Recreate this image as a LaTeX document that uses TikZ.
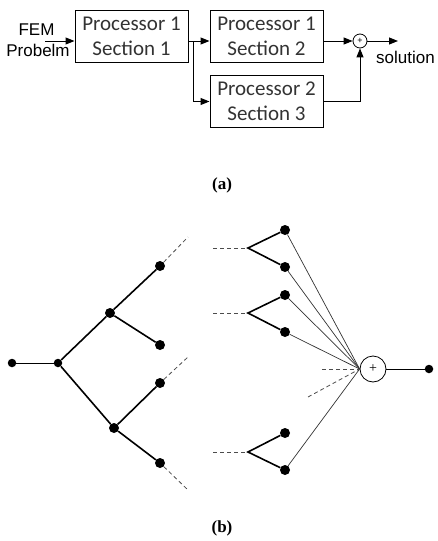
\documentclass[tikz,border=0pt]{standalone}
\usepackage{fontspec}
\setmainfont{Liberation Serif}
\newfontfamily\calfont{Carlito}
\newfontfamily\arifont{Liberation Sans}
\usetikzlibrary{arrows.meta}
\begin{document}
\begin{tikzpicture}[x=1pt,y=-1pt,
  procbox/.style={draw, line width=1pt, minimum width=113pt, minimum height=52pt, inner sep=0pt, align=center, font=\calfont\fontsize{21}{25}\selectfont, text=black!80},
  arr/.style={-{Triangle[length=9pt,width=7pt]}, line width=1pt},
  plain/.style={line width=1pt},
  bigdot/.style={circle, fill=black, inner sep=0pt, minimum size=10pt},
  meddot/.style={circle, fill=black, inner sep=0pt, minimum size=8.5pt},
  thickedge/.style={line width=1.6pt},
  thinedge/.style={line width=0.7pt, black!80},
  dashedge/.style={dashed, dash pattern=on 4pt off 3pt, line width=0.8pt, black!70},
  sumcirc/.style={circle, draw, inner sep=0pt, line width=0.8pt},
  sanslabel/.style={font=\arifont\fontsize{17}{21}\selectfont, inner sep=0pt},
  caplabel/.style={font=\bfseries\fontsize{17}{19}\selectfont, inner sep=0pt}
]
\useasboundingbox (0,0) rectangle (437,541);

% ---------- (a) ----------
\node[procbox] (p1) at (131.5,36) {Processor 1\\Section 1};
\node[procbox] (p2) at (266.5,36) {Processor 1\\Section 2};
\node[procbox] (p3) at (266.5,101.5) {Processor 2\\Section 3};
\node[sanslabel, anchor=base] (fem1) at (36.5,35) {FEM};
\node[sanslabel, anchor=base] (fem2) at (38,56) {Probelm};
\node[sumcirc, minimum size=14pt, font=\arifont\fontsize{9}{9}\selectfont] (sa) at (360,41) {+};
\node[sanslabel, anchor=west] (sol) at (376,57) {solution};

\coordinate (ain) at (45,41);
\coordinate (br) at (193,41);
\coordinate (aout) at (398,41);

\draw[arr] (ain) -- (ain -| p1.west);
\draw[plain] (br -| p1.east) -- (br);
\draw[arr] (br) -- (br -| p2.west);
\draw[arr] (br) |- (p3.west);
\draw[arr] (sa.west -| p2.east) -- (sa.west);
\draw[arr] (p3.east) -| (sa.south);
\draw[arr] (sa.east) -- (aout);

\node[caplabel] (la) at (222,185) {(a)};

% ---------- (b) ----------
\node[meddot] (in) at (12,363) {};
\node[meddot] (A) at (58,363) {};
\node[bigdot] (B) at (110,313) {};
\node[bigdot] (C) at (114,428) {};
\node[bigdot] (B1) at (160,266) {};
\node[bigdot] (B2) at (160,345) {};
\node[bigdot] (C1) at (160,383) {};
\node[bigdot] (C2) at (160,463) {};

\draw[plain] (in) -- (A);
\draw[thickedge] (A) -- (B) -- (B1);
\draw[thickedge] (B) -- (B2);
\draw[thickedge] (A) -- (C) -- (C1);
\draw[thickedge] (C) -- (C2);

\coordinate (e1) at (188,237);
\coordinate (e2) at (188,357);
\coordinate (e3) at (188,490);
\draw[dashedge] (B1) -- (e1);
\draw[dashedge] (C1) -- (e2);
\draw[dashedge] (C2) -- (e3);

\coordinate (F1) at (248,248);
\coordinate (F2) at (248,313);
\coordinate (F3) at (248,452);
\coordinate (d1) at (213,248);
\coordinate (d2) at (213,313);
\coordinate (d3) at (213,452);
\node[bigdot] (L1) at (285,230) {};
\node[bigdot] (L2) at (285,267) {};
\node[bigdot] (L3) at (285,295) {};
\node[bigdot] (L4) at (285,332) {};
\node[bigdot] (L5) at (285,433) {};
\node[bigdot] (L6) at (285,470) {};

\draw[dashedge] (d1) -- (F1);
\draw[dashedge] (d2) -- (F2);
\draw[dashedge] (d3) -- (F3);
\draw[thickedge] (L1) -- (F1) -- (L2);
\draw[thickedge] (L3) -- (F2) -- (L4);
\draw[thickedge] (L5) -- (F3) -- (L6);

\node[sumcirc, minimum size=26pt, font=\fontsize{14}{14}\selectfont] (S) at (373,369) {+};
\node[meddot] (out) at (429,369) {};

\foreach \l in {L1,L2,L3,L4,L6} \draw[thinedge] (\l) -- (S.west);
\coordinate (g1) at (322,369);
\coordinate (g2) at (308,397);
\draw[dashedge] (g1) -- (S.west);
\draw[dashedge] (g2) -- (S.west);
\draw[plain] (S.east) -- (out);

\node[caplabel] (lb) at (222,528) {(b)};
\end{tikzpicture}
\end{document}
